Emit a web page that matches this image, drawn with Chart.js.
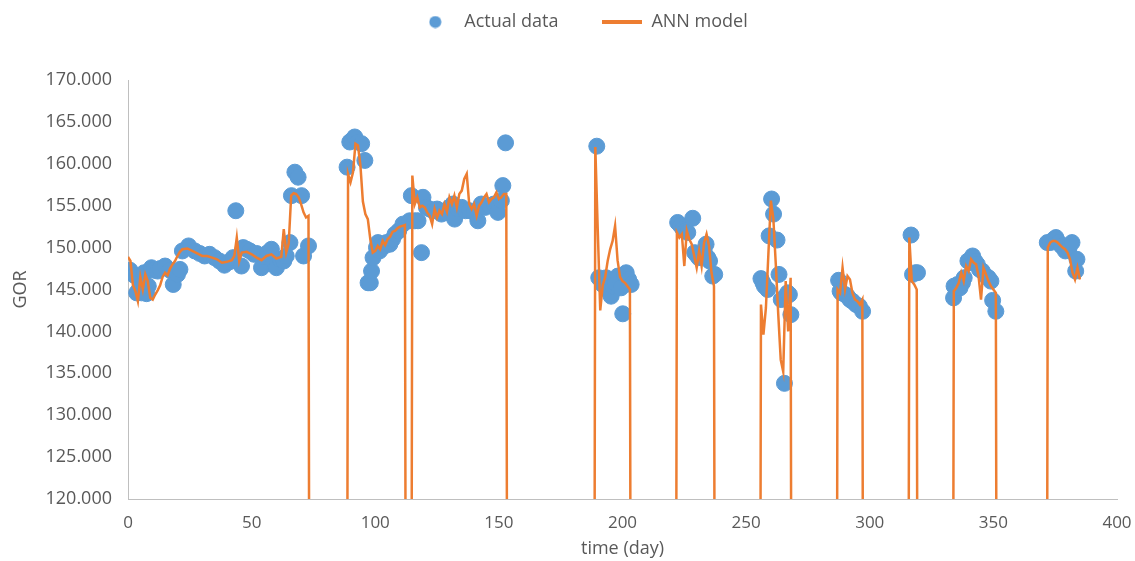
<!DOCTYPE html>
<html>
<head>
<meta charset="utf-8">
<script src="https://cdn.jsdelivr.net/npm/chart.js@4.4.1/dist/chart.umd.min.js"></script>
<style>
  html, body { margin: 0; padding: 0; background: #fff; overflow: hidden; }
  #wrap { width: 1135px; height: 561px; position: relative; overflow: hidden; }
  canvas { display: block; }
</style>
</head>
<body>
<div id="wrap"><canvas id="mycanvas"></canvas></div>
<script>
// measured GOR values (blue dots)
var actualDays = [0.8, 2.5, 3.5, 4.5, 5.5, 6.5, 7.5, 8.2, 9.5, 10.5, 12, 13, 15, 17, 18.3, 20, 21, 22, 24.5, 27, 29, 31, 33, 35, 37, 39, 41, 42.5, 43.6, 45.9, 46.6, 48, 49.3, 51, 52, 54, 55, 56.5, 58, 59, 60, 61.5, 63, 64, 65.5, 66.1, 67.5, 68.8, 70.2, 71, 73,
  88.6, 89.7, 90.5, 91.7, 93, 94.5, 95.8, 97.1, 98, 98.5, 99.1, 100.5, 101.1, 101.8, 102.5, 103.8, 104.5, 105.9, 107, 108, 109.5, 111.2, 113.9, 114.6, 116, 117.3, 118.7, 119.3, 120.7, 122, 123.4, 125, 126.8, 128.5, 130, 131.4, 132.1, 133.5, 135, 136.5, 138.2, 140, 141.5, 142.9, 144.5, 146.3, 148, 149.6, 151, 151.6, 152.7,
  189.6, 190.4, 191.5, 192, 193.4, 194.5, 195.4, 196, 197, 198.1, 199.4, 200.1, 200.8, 201.5, 202.5, 203.5,
  222.3, 223.5, 224.5, 225.5, 226.4, 228.4, 229.2, 229.8, 230.8, 232, 233, 233.8, 234.5, 235.2, 236.5, 237.3,
  256, 256.8, 257.4, 258.7, 259.3, 260.3, 261.1, 262.5, 263.3, 264.2, 265.5, 266, 266.8, 267.5, 268.1,
  287.4, 288, 288.5, 290, 291, 292, 293, 294.5, 295.8, 297.1,
  316.7, 317.3, 318.5, 319.3,
  333.9, 334.1, 335.5, 336.5, 337.5, 338.2, 339.7, 341, 341.6, 342.5, 343.5, 344.4, 345.5, 347, 348, 349, 349.7, 351,
  371.8, 373, 374.5, 375.3, 376.5, 377.5, 379.1, 380.5, 381.8, 383.3, 383.8];
var actualGor = [147.3, 146.7, 144.6, 145.0, 144.6, 147.0, 144.5, 145.4, 147.6, 147.3, 147.2, 147.5, 147.8, 147.3, 145.6, 146.8, 147.4, 149.6, 150.2, 149.6, 149.3, 149.0, 149.2, 148.8, 148.4, 147.9, 148.3, 148.8, 154.4, 147.8, 150.0, 149.8, 149.6, 149.2, 149.3, 147.6, 148.9, 149.4, 149.8, 148.4, 147.6, 148.6, 148.4, 149.0, 150.6, 156.2, 159.0, 158.4, 156.2, 149.0, 150.2,
  159.6, 162.6, 162.8, 163.2, 162.6, 162.4, 160.4, 145.8, 145.8, 147.2, 148.8, 150.0, 150.6, 149.6, 150.4, 150.2, 150.6, 150.4, 151.0, 151.6, 152.0, 152.8, 153.2, 156.2, 153.2, 153.2, 149.4, 156.0, 154.8, 154.6, 154.4, 154.6, 154.0, 154.2, 154.8, 155.2, 153.4, 154.6, 154.8, 154.4, 154.4, 154.2, 153.2, 155.2, 154.8, 155.0, 155.2, 154.2, 155.6, 157.4, 162.5,
  162.1, 146.4, 146.2, 145.6, 146.4, 144.8, 144.2, 145.4, 145.8, 146.6, 145.2, 142.1, 146.8, 147.0, 146.2, 145.6,
  153.0, 152.6, 152.2, 152.0, 151.8, 153.5, 149.4, 149.2, 148.8, 149.2, 149.6, 150.4, 148.8, 148.4, 146.6, 146.8,
  146.3, 145.8, 145.4, 145.0, 151.4, 155.8, 154.0, 150.9, 146.8, 143.8, 133.8, 144.2, 144.6, 144.4, 142.0,
  146.1, 144.8, 144.6, 144.4, 144.2, 143.8, 143.6, 143.2, 143.0, 142.4,
  151.5, 146.8, 147.0, 147.0,
  144.0, 145.4, 145.6, 145.2, 145.8, 146.4, 148.4, 148.2, 149.0, 148.4, 148.0, 147.4, 147.2, 146.6, 146.4, 146.0, 143.7, 142.4,
  150.6, 150.6, 151.0, 151.2, 150.6, 150.2, 149.6, 149.8, 150.6, 147.2, 148.6];

// ANN model output (orange line), zero on the days without data
var annDays = [0, 1, 2, 3, 4, 5, 6, 7, 8, 9, 10, 11, 12, 13, 14, 15, 16, 17, 18, 19, 20, 21, 22, 24, 26, 28, 30, 32, 34, 36, 38, 40, 42, 43, 44, 45, 46, 48, 50, 52, 54, 56, 58, 60, 62, 63, 64, 65, 66, 67, 68, 69, 70, 71, 72, 73, 74,
  88, 89, 90, 91, 92, 93, 94, 95, 96, 97, 98, 99, 100, 101, 102, 103, 104, 105, 106, 107, 108, 109, 110, 111, 112, 113,
  114, 115, 116, 117, 118, 119, 120, 121, 122, 123, 124, 125, 126, 127, 128, 129, 130, 131, 132, 133, 134, 135, 136, 137, 138, 139, 140, 141, 142, 143, 144, 145, 146, 147, 148, 149, 150, 151, 152, 153, 154,
  188, 189, 190, 191, 192, 193, 194, 195, 196, 197, 198, 199, 200, 201, 202, 203, 204,
  221, 222, 223, 224, 225, 226, 227, 228, 229, 230, 231, 232, 233, 234, 235, 236, 237, 238,
  255, 256, 257, 258, 259, 260, 261, 262, 263, 264, 265, 266, 267, 268, 269,
  286, 287, 288, 289, 290, 291, 292, 293, 294, 295, 296, 297, 298,
  315, 316, 317, 318, 319, 320,
  333, 334, 335, 336, 337, 338, 339, 340, 341, 342, 343, 344, 345, 346, 347, 348, 349, 350, 351, 352,
  371, 372, 373, 374, 375, 376, 377, 378, 379, 380, 381, 382, 383, 384, 385];
var annGor = [148.9, 148.4, 145.5, 144.8, 143.6, 146.5, 145.0, 146.8, 146.0, 144.0, 143.8, 144.4, 144.9, 145.5, 146.5, 147.0, 146.7, 147.5, 148.0, 148.4, 149.0, 149.5, 149.8, 149.9, 149.6, 149.3, 149.0, 149.0, 148.8, 148.6, 148.2, 148.3, 148.5, 149.0, 151.2, 148.4, 149.4, 149.5, 149.2, 148.8, 148.5, 149.0, 149.2, 148.7, 148.9, 152.2, 149.4, 150.5, 156.2, 156.5, 156.4, 156.0, 155.2, 154.2, 153.6, 153.8, 0,
  0, 158.8, 157.8, 159.0, 162.4, 162.2, 159.8, 155.5, 154.0, 153.4, 151.0, 149.4, 149.6, 150.2, 149.8, 150.8, 150.3, 151.0, 151.3, 151.9, 152.0, 152.3, 152.5, 152.6, 152.7, 0,
  0, 158.6, 155.2, 156.0, 154.8, 155.0, 154.8, 154.2, 153.8, 152.8, 154.6, 153.6, 154.4, 154.0, 155.2, 154.3, 156.0, 155.2, 156.2, 154.8, 156.4, 156.8, 158.2, 158.8, 155.2, 154.6, 155.2, 153.8, 155.0, 155.4, 156.0, 156.4, 155.4, 155.8, 156.0, 156.6, 155.8, 156.0, 156.4, 156.4, 0,
  0, 162.0, 152.0, 142.5, 145.5, 146.5, 148.4, 149.8, 150.8, 152.6, 148.5, 146.5, 146.0, 145.8, 145.4, 145.0, 0,
  0, 151.8, 151.2, 151.6, 147.8, 152.0, 151.0, 150.4, 149.0, 147.6, 149.6, 147.8, 150.6, 151.6, 150.2, 147.0, 145.4, 0,
  0, 143.2, 139.6, 142.8, 149.2, 155.6, 153.5, 148.0, 142.0, 136.6, 135.2, 146.0, 140.0, 146.4, 0,
  0, 145.0, 144.6, 147.6, 145.0, 146.6, 146.2, 144.6, 143.8, 143.6, 143.2, 143.8, 0,
  0, 151.2, 146.0, 145.6, 145.0, 0,
  0, 144.8, 145.2, 145.8, 147.0, 146.0, 147.8, 147.2, 148.6, 148.2, 148.0, 146.6, 143.8, 147.6, 146.8, 146.0, 145.4, 145.0, 144.6, 0,
  0, 150.0, 150.6, 150.8, 150.8, 150.6, 150.3, 150.0, 149.8, 149.4, 148.6, 147.0, 146.2, 147.6, 146.2];

var yTicks = [120, 125, 130, 135, 140, 145, 150, 155, 160, 165, 170];
var xTicks = [0, 50, 100, 150, 200, 250, 300, 350, 400];

var blue = '#5B9BD5';
var orange = '#ED7D31';
var grey = '#595959';

function toPoints(xs, ys) {
  var pts = [];
  for (var i in xs) {
    pts.push({x: xs[i], y: ys[i]});
  }
  return pts;
}

// small swatches for the legend
function swatch(w, h, draw) {
  var c = document.createElement('canvas');
  c.width = w; c.height = h;
  draw(c.getContext('2d'));
  return c;
}
var dotIcon = swatch(13, 13, function(g) {
  g.fillStyle = blue; g.beginPath(); g.arc(6.5, 6.5, 6, 0, Math.PI * 2); g.fill();
});
var lineIcon = swatch(40, 4, function(g) {
  g.fillStyle = orange; g.fillRect(0, 0, 40, 4);
});

// fixed legend band, then nudge the legend into place
var legendSpace = {
  id: 'legendSpace',
  beforeInit: function(chart) {
    var fit = chart.legend.fit;
    chart.legend.fit = function() {
      fit.bind(chart.legend)();
      this.height = 76;
    };
  },
  afterLayout: function(chart) {
    var lg = chart.legend;
    lg.top -= 35; lg.bottom -= 35;
    lg.left += 10; lg.right += 10;
  }
};

var ctx = document.getElementById('mycanvas');
var chart = new Chart(ctx, {
  type: 'scatter',
  data: {
    datasets: [
      {
        label: 'Actual data',
        data: toPoints(actualDays, actualGor),
        backgroundColor: blue,
        borderColor: blue,
        pointRadius: 8,
        pointHoverRadius: 8,
        order: 1
      },
      {
        label: 'ANN model',
        data: toPoints(annDays, annGor),
        showLine: true,
        borderColor: orange,
        backgroundColor: orange,
        borderWidth: 2.5,
        pointRadius: 0,
        pointHoverRadius: 0,
        tension: 0,
        order: 0
      }
    ]
  },
  plugins: [legendSpace],
  options: {
    responsive: true,
    maintainAspectRatio: false,
    animation: false,
    layout: { padding: { left: 8, right: 0, top: 4, bottom: 0 } },
    plugins: {
      tooltip: { enabled: false },
      legend: {
        position: 'top',
        labels: {
          usePointStyle: true,
          pointStyleWidth: 40,
          boxHeight: 13,
          padding: 44,
          color: grey,
          font: { family: 'Open Sans', size: 18 },
          sort: function(a, b) { return a.datasetIndex - b.datasetIndex; },
          generateLabels: function(chart) {
            var items = Chart.defaults.plugins.legend.labels.generateLabels(chart);
            items.forEach(function(it) {
              it.pointStyle = it.datasetIndex === 0 ? dotIcon : lineIcon;
            });
            return items;
          }
        }
      }
    },
    scales: {
      x: {
        type: 'linear',
        min: 0,
        max: 400,
        afterBuildTicks: function(axis) {
          axis.ticks = xTicks.map(function(v) { return {value: v}; });
        },
        grid: { display: false, drawTicks: false },
        border: { display: true, color: '#BFBFBF', width: 1 },
        ticks: { padding: 14, color: grey, font: { family: 'Open Sans', size: 17 }, maxRotation: 0 },
        title: { display: true, text: 'time (day)', color: grey, font: { family: 'Open Sans', size: 18 }, padding: { top: 0, bottom: 1 } },
        afterFit: function(axis) {
          axis.height = 62;
          axis.paddingRight = 18;
        }
      },
      y: {
        min: 120,
        max: 170,
        afterBuildTicks: function(axis) {
          axis.ticks = yTicks.map(function(v) { return {value: v}; });
        },
        grid: { display: false, drawTicks: false },
        border: { display: true, color: '#BFBFBF', width: 1 },
        ticks: {
          padding: 16,
          color: grey,
          font: { family: 'Open Sans', size: 18 },
          callback: function(v) { return v.toFixed(3); }
        },
        title: { display: true, text: 'GOR', color: grey, font: { family: 'Open Sans', size: 18 }, padding: { top: 2, bottom: 0 } },
        afterFit: function(axis) { axis.width = 120; }
      }
    }
  }
});
</script>
</body>
</html>
